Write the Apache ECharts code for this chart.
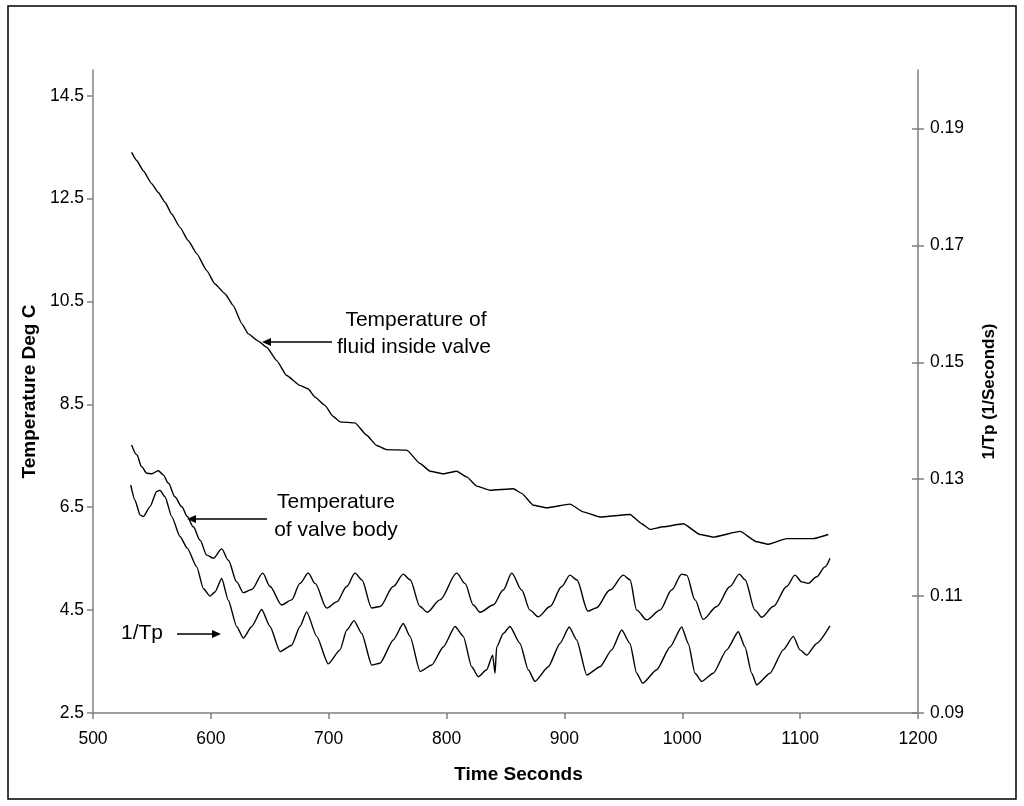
<!DOCTYPE html>
<html>
<head>
<meta charset="utf-8">
<script src="https://cdn.jsdelivr.net/npm/echarts@6/dist/echarts.min.js"></script>
<style>
html,body{margin:0;padding:0;background:#fff;}
#chart{width:1024px;height:806px;}
</style>
</head>
<body>
<div id="chart"></div>
<script>
// ---- data ----
const fluidTime = [532.8, 537.1, 542.7, 549.8, 555.4, 561.1, 566.8, 573.8, 580.9, 588.0, 596.5, 603.5, 612.0, 619.0, 626.2, 631.8, 640.3, 647.4, 655.9, 664.3, 675.6, 682.7, 688.4, 696.8, 703.6, 709.6, 722.3, 732.2, 740.7, 749.2, 766.2, 777.5, 786.0, 797.2, 808.6, 817.1, 825.6, 836.8, 856.6, 863.7, 873.6, 884.9, 904.7, 916.0, 930.2, 955.6, 965.6, 972.6, 983.9, 1000.9, 1015.1, 1026.3, 1049.0, 1063.1, 1073.0, 1088.6, 1111.2, 1123.9];
const fluidTemp = [13.40, 13.24, 13.04, 12.79, 12.62, 12.43, 12.20, 11.94, 11.68, 11.43, 11.10, 10.84, 10.65, 10.42, 10.07, 9.87, 9.73, 9.61, 9.35, 9.06, 8.87, 8.80, 8.64, 8.48, 8.27, 8.16, 8.14, 7.90, 7.70, 7.62, 7.61, 7.35, 7.20, 7.15, 7.20, 7.09, 6.91, 6.83, 6.86, 6.77, 6.54, 6.49, 6.56, 6.41, 6.31, 6.36, 6.18, 6.07, 6.12, 6.18, 5.97, 5.92, 6.03, 5.83, 5.78, 5.89, 5.89, 5.97];

const bodyTime = [532.8, 537.1, 541.3, 545.6, 549.8, 555.4, 559.6, 563.9, 569.6, 575.3, 580.0, 585.1, 590.8, 596.5, 602.1, 609.2, 614.8, 621.9, 627.5, 634.7, 644.0, 650.2, 660.1, 668.6, 675.6, 682.7, 688.4, 698.3, 706.8, 715.3, 722.3, 728.0, 736.5, 743.5, 754.8, 763.3, 769.0, 777.5, 783.6, 794.4, 808.6, 815.6, 822.7, 828.4, 839.6, 848.1, 855.3, 863.7, 870.8, 877.8, 887.8, 897.7, 904.7, 910.4, 920.0, 926.8, 938.7, 950.0, 955.6, 961.3, 969.8, 981.1, 991.0, 999.5, 1003.7, 1010.8, 1017.8, 1029.2, 1040.5, 1048.4, 1053.2, 1061.7, 1067.4, 1077.2, 1088.6, 1095.6, 1101.3, 1106.9, 1114.0, 1121.1, 1125.3];
const bodyTemp = [7.71, 7.52, 7.29, 7.16, 7.15, 7.21, 7.13, 6.97, 6.70, 6.51, 6.32, 6.12, 5.86, 5.57, 5.51, 5.69, 5.47, 5.05, 4.84, 4.90, 5.22, 4.96, 4.60, 4.70, 5.02, 5.22, 5.02, 4.54, 4.66, 4.96, 5.22, 5.09, 4.54, 4.57, 4.96, 5.20, 5.09, 4.57, 4.46, 4.70, 5.22, 5.02, 4.60, 4.46, 4.60, 4.89, 5.22, 4.89, 4.50, 4.37, 4.57, 4.96, 5.18, 5.09, 4.48, 4.54, 4.89, 5.18, 5.09, 4.50, 4.31, 4.50, 4.89, 5.20, 5.18, 4.70, 4.32, 4.57, 4.96, 5.20, 5.09, 4.50, 4.36, 4.57, 4.96, 5.18, 5.05, 5.02, 5.15, 5.34, 5.51];

const tpTime = [532.0, 535.6, 539.9, 542.7, 548.4, 554.0, 556.8, 561.1, 566.8, 573.8, 580.0, 588.0, 593.6, 599.3, 603.5, 609.2, 614.8, 621.9, 627.5, 634.7, 643.1, 650.2, 658.7, 668.6, 675.6, 681.3, 689.8, 699.6, 709.6, 715.3, 721.5, 728.0, 736.5, 743.5, 754.8, 763.3, 769.0, 777.5, 787.4, 797.2, 807.2, 814.2, 821.3, 826.9, 834.0, 839.1, 841.1, 842.5, 848.1, 853.8, 862.3, 869.3, 875.0, 886.3, 896.2, 904.1, 910.4, 918.9, 930.2, 940.1, 948.6, 955.6, 961.3, 966.4, 978.3, 989.6, 999.5, 1005.1, 1010.8, 1016.5, 1026.3, 1037.7, 1047.5, 1053.2, 1058.9, 1063.1, 1074.4, 1085.7, 1094.2, 1099.9, 1105.6, 1114.0, 1125.3];
const tpInverse = [0.1290, 0.1264, 0.1239, 0.1236, 0.1253, 0.1279, 0.1281, 0.1270, 0.1236, 0.1202, 0.1182, 0.1150, 0.1113, 0.1100, 0.1107, 0.1130, 0.1093, 0.1048, 0.1028, 0.1048, 0.1077, 0.1048, 0.1005, 0.1016, 0.1048, 0.1073, 0.1031, 0.0984, 0.1008, 0.1042, 0.1058, 0.1036, 0.0982, 0.0985, 0.1025, 0.1053, 0.1031, 0.0971, 0.0982, 0.1013, 0.1048, 0.1031, 0.0979, 0.0962, 0.0974, 0.0999, 0.0968, 0.1013, 0.1036, 0.1048, 0.1019, 0.0974, 0.0954, 0.0979, 0.1019, 0.1047, 0.1025, 0.0965, 0.0979, 0.1008, 0.1042, 0.1019, 0.0968, 0.0951, 0.0974, 0.1013, 0.1047, 0.1019, 0.0968, 0.0954, 0.0968, 0.1008, 0.1039, 0.1013, 0.0968, 0.0948, 0.0968, 0.1008, 0.1031, 0.1008, 0.0999, 0.1019, 0.1049];

const leftTicks = [2.5, 4.5, 6.5, 8.5, 10.5, 12.5, 14.5];
const rightTicks = [0.09, 0.11, 0.13, 0.15, 0.17, 0.19];

const xTitle = 'Time Seconds';
const leftTitle = 'Temperature Deg C';
const rightTitle = '1/Tp (1/Seconds)';

// ---- chart ----
const FONT = '"Liberation Sans", Arial, sans-serif';
const zip = (a, b) => a.map((v, i) => [v, b[i]]);
const chart = echarts.init(document.getElementById('chart'), null, {renderer: 'canvas'});

const axisGray = '#808080';
const G = {left: 93, right: 106, top: 70, bottom: 93};
const TICK_FS = 17.5;

function arrowLeft(tx, ty, len) {
  return [
    {type: 'line', shape: {x1: tx + 6, y1: ty, x2: tx + len, y2: ty}, style: {stroke: '#000', lineWidth: 1.6}},
    {type: 'polygon', shape: {points: [[tx, ty], [tx + 9, ty - 4], [tx + 9, ty + 4]]}, style: {fill: '#000'}}
  ];
}
function arrowRight(tx, ty, len) {
  return [
    {type: 'line', shape: {x1: tx - len, y1: ty, x2: tx - 6, y2: ty}, style: {stroke: '#000', lineWidth: 1.6}},
    {type: 'polygon', shape: {points: [[tx, ty], [tx - 9, ty - 4], [tx - 9, ty + 4]]}, style: {fill: '#000'}}
  ];
}
function label(txt, cx, cy) {
  return {type: 'text', x: cx, y: cy, style: {text: txt, font: '21px ' + FONT, fill: '#000', align: 'center', verticalAlign: 'middle'}};
}

const option = {
  animation: false,
  backgroundColor: '#fff',
  grid: {left: G.left, right: G.right, top: G.top, bottom: G.bottom, containLabel: false, outerBoundsMode: 'none'},
  xAxis: {
    type: 'value', min: 500, max: 1200, interval: 100,
    name: xTitle, nameLocation: 'middle', nameGap: 52,
    nameTextStyle: {fontFamily: FONT, fontWeight: 'bold', fontSize: 19, color: '#000', padding: [0, 0, 0, 26]},
    axisLine: {lineStyle: {color: axisGray, width: 1.5}},
    axisTick: {show: true, inside: false, length: 6, lineStyle: {color: axisGray, width: 1.5}},
    axisLabel: {fontFamily: FONT, fontSize: TICK_FS, color: '#000', margin: 17, showMinLabel: true, showMaxLabel: true, formatter: v => String(v)},
    splitLine: {show: false}
  },
  yAxis: [
    {
      type: 'value', position: 'left', min: 2.5, max: 15,
      name: leftTitle, nameLocation: 'middle', nameGap: 53,
      nameTextStyle: {fontFamily: FONT, fontWeight: 'bold', fontSize: 19, color: '#000'},
      axisLine: {show: true, lineStyle: {color: axisGray, width: 1.5}},
      axisTick: {show: true, inside: false, length: 6, customValues: leftTicks, lineStyle: {color: axisGray, width: 1.5}},
      axisLabel: {fontFamily: FONT, fontSize: TICK_FS, color: '#000', margin: 9, customValues: leftTicks, formatter: v => Number(v).toFixed(1)},
      splitLine: {show: false}
    },
    {
      type: 'value', position: 'right', offset: 0, min: 0.09, max: 0.2,
      name: rightTitle, nameLocation: 'middle', nameGap: 63,
      nameTextStyle: {fontFamily: FONT, fontWeight: 'bold', fontSize: 17, color: '#000'},
      axisLine: {show: true, lineStyle: {color: axisGray, width: 1.5}},
      axisTick: {show: true, inside: false, length: 6, customValues: rightTicks, lineStyle: {color: axisGray, width: 1.5}},
      axisLabel: {fontFamily: FONT, fontSize: TICK_FS, color: '#000', margin: 12, customValues: rightTicks, formatter: v => Number(v).toFixed(2)},
      splitLine: {show: false}
    },
    {
      type: 'value', position: 'right', offset: 0, min: 0.09, max: 0.2,
      axisLine: {show: false},
      axisTick: {show: true, inside: true, length: 6, customValues: rightTicks, lineStyle: {color: axisGray, width: 1.5}},
      axisLabel: {show: false},
      splitLine: {show: false}
    }
  ],
  series: [
    {name: 'Temperature of fluid inside valve', type: 'line', yAxisIndex: 0, data: zip(fluidTime, fluidTemp),
     showSymbol: false, smooth: 0.15, smoothMonotone: 'x', lineStyle: {color: '#000', width: 1.4}, silent: true},
    {name: 'Temperature of valve body', type: 'line', yAxisIndex: 0, data: zip(bodyTime, bodyTemp),
     showSymbol: false, smooth: 0.3, smoothMonotone: 'x', lineStyle: {color: '#000', width: 1.4}, silent: true},
    {name: '1/Tp', type: 'line', yAxisIndex: 1, data: zip(tpTime, tpInverse),
     showSymbol: false, smooth: 0.2, smoothMonotone: 'x', lineStyle: {color: '#000', width: 1.4}, silent: true}
  ],
  graphic: [
    {type: 'rect', shape: {x: 8, y: 6, width: 1008, height: 793}, style: {fill: null, stroke: '#000', lineWidth: 1.5}, silent: true},
    label('Temperature of', 416, 320),
    label('fluid inside valve', 414, 347),
    ...arrowLeft(262, 342, 70),
    label('Temperature', 336, 502),
    label('of valve body', 336, 530),
    ...arrowLeft(187, 519, 80),
    label('1/Tp', 142, 633),
    ...arrowRight(221, 634, 44)
  ]
};
chart.setOption(option);
</script>
</body>
</html>
